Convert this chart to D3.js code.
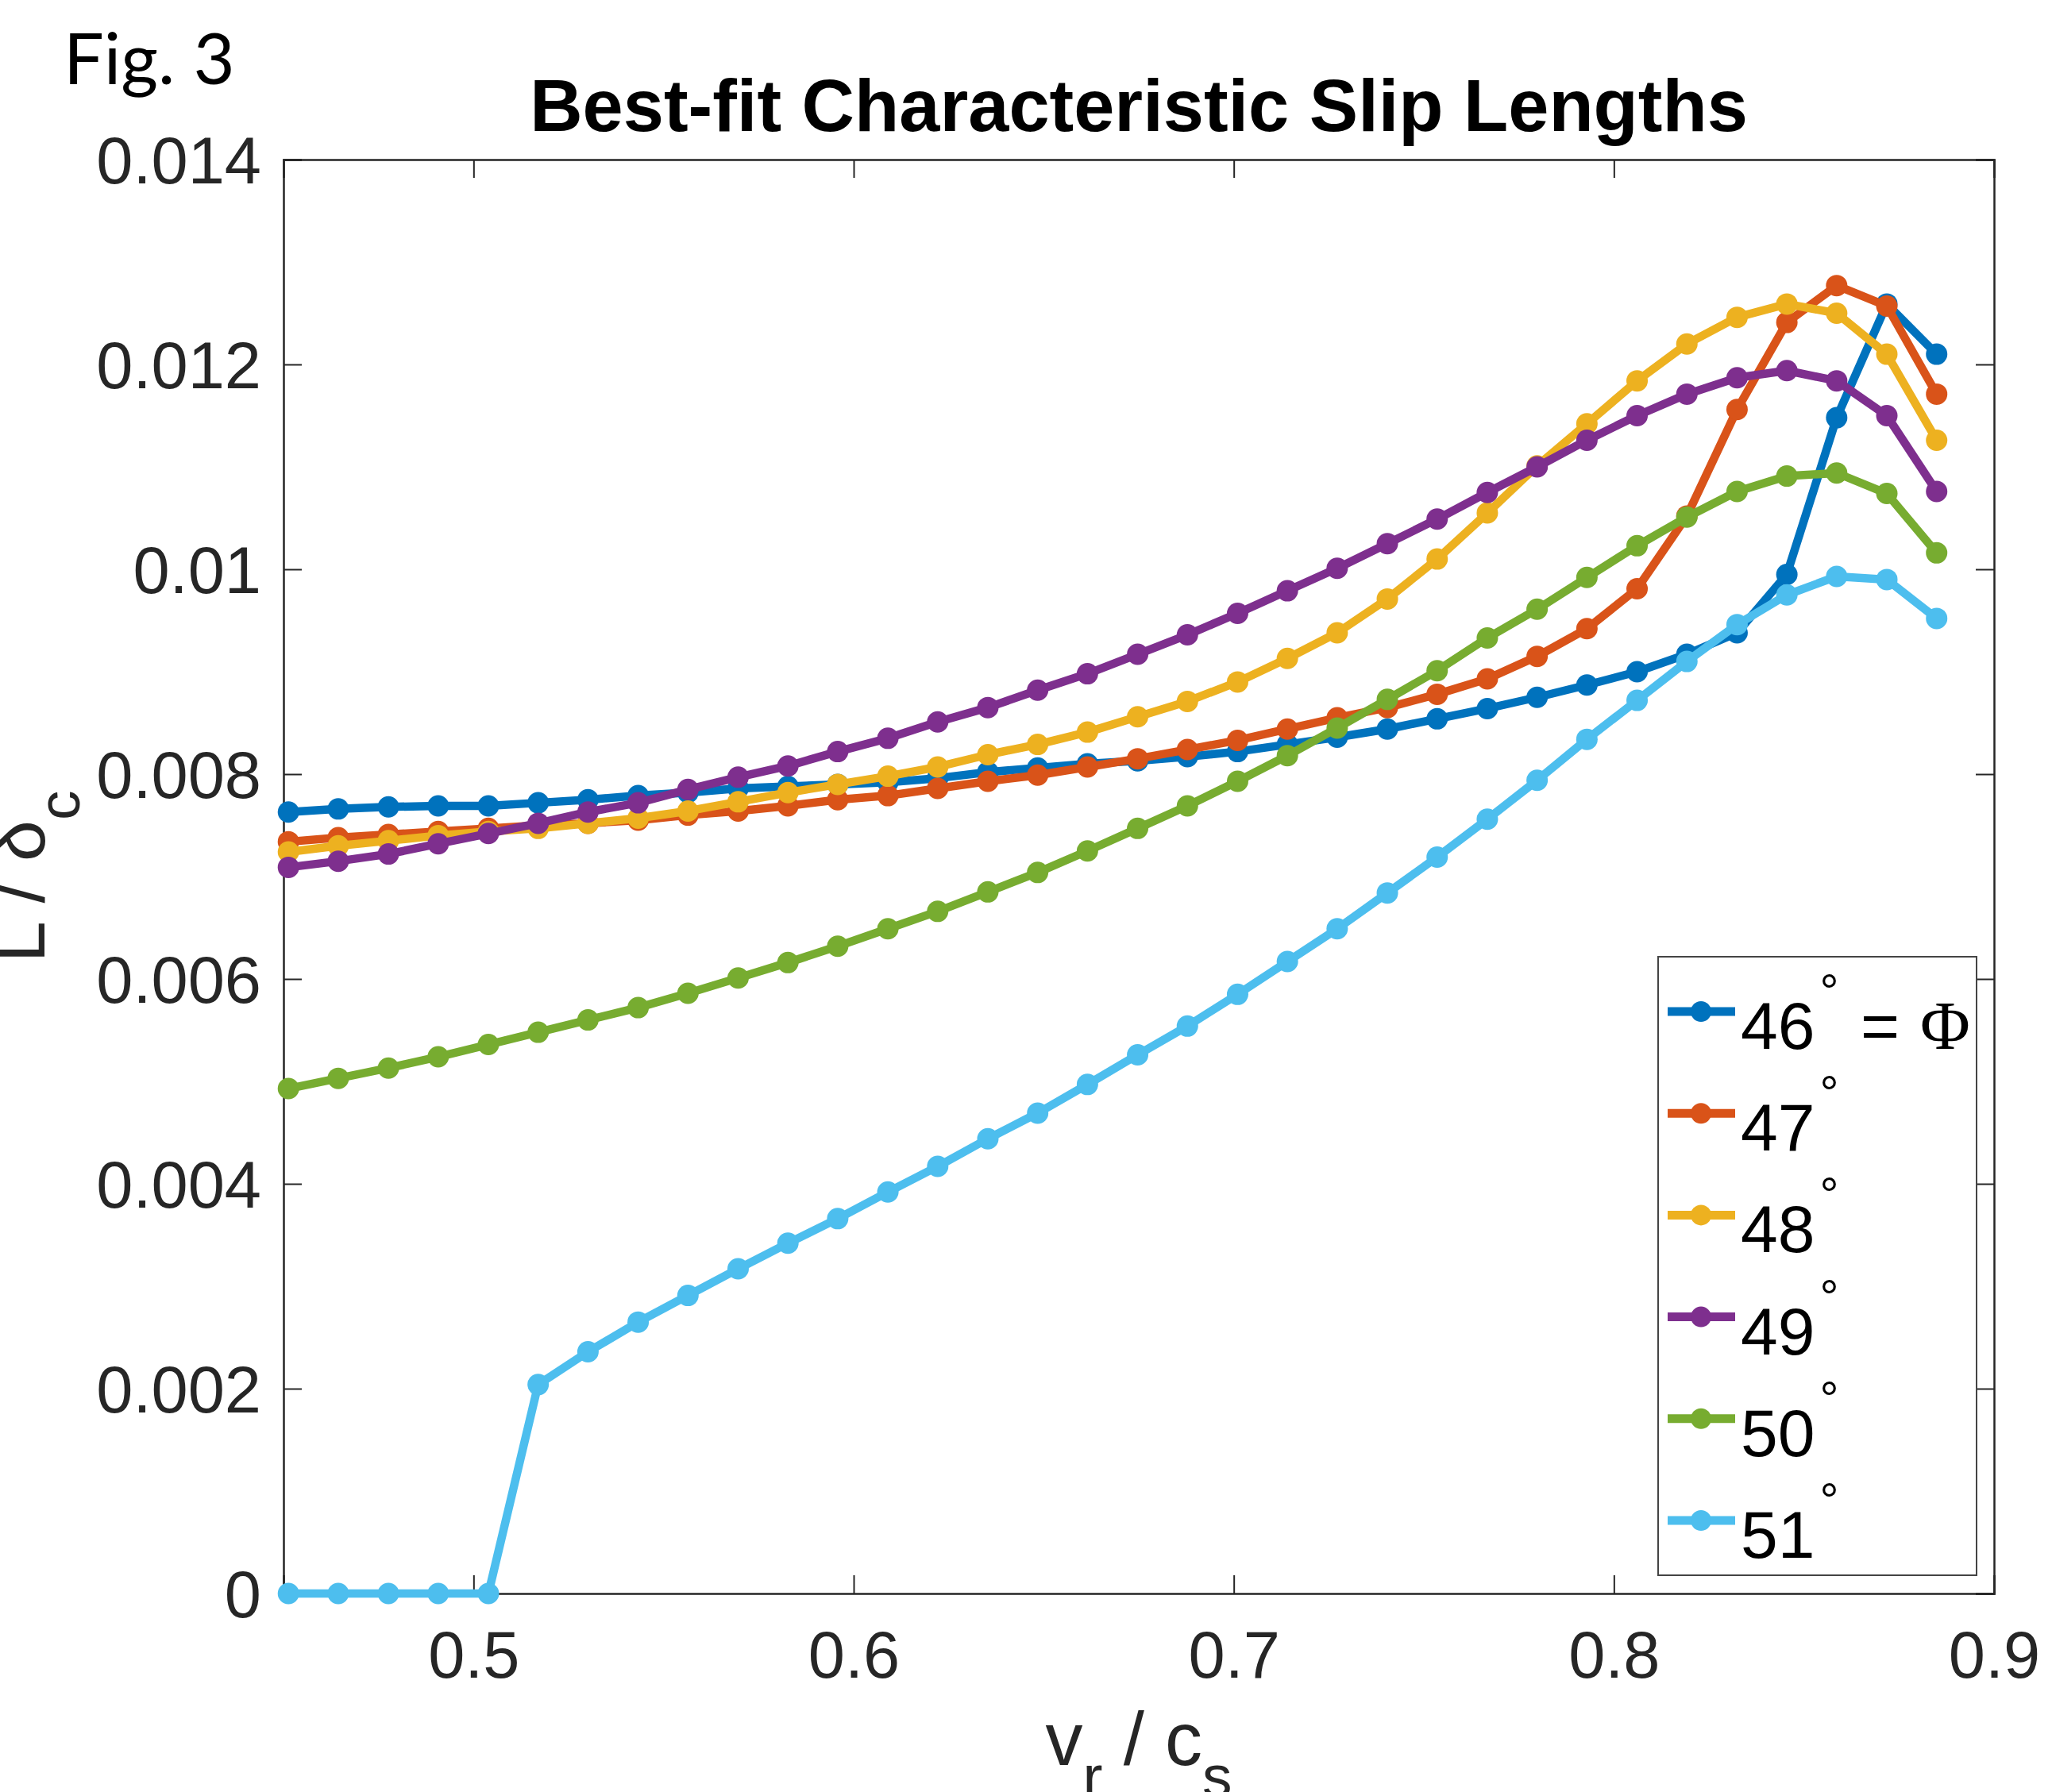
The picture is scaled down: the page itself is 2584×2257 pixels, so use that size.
<!DOCTYPE html>
<html>
<head>
<meta charset="utf-8">
<script src="https://cdn.jsdelivr.net/npm/d3@7"></script>
<style>
  body { margin: 0; background: #fff; }
</style>
</head>
<body>
<div id="chart"></div>
<script>
// Data
var vr = [0.4513, 0.4644, 0.4776, 0.4907, 0.5039, 0.5170, 0.5301, 0.5433, 0.5564, 0.5696,
          0.5827, 0.5958, 0.6090, 0.6221, 0.6353, 0.6484, 0.6615, 0.6747, 0.6878, 0.7010,
          0.7141, 0.7272, 0.7404, 0.7535, 0.7667, 0.7798, 0.7929, 0.8061, 0.8192, 0.8324,
          0.8455, 0.8586, 0.8718, 0.8849];

var angles = ["46", "47", "48", "49", "50", "51"];

var L46 = [0.00763, 0.00766, 0.00768, 0.00769, 0.00769, 0.00772, 0.00775, 0.00779, 0.00782, 0.00786,
           0.00788, 0.00790, 0.00792, 0.00796, 0.00802, 0.00806, 0.00810, 0.00813, 0.00817, 0.00822,
           0.00829, 0.00836, 0.00844, 0.00854, 0.00864, 0.00875, 0.00887, 0.00900, 0.00917, 0.00938,
           0.00995, 0.01148, 0.01259, 0.01210];
var L47 = [0.00734, 0.00738, 0.00741, 0.00744, 0.00747, 0.00750, 0.00752, 0.00755, 0.00760, 0.00764,
           0.00769, 0.00775, 0.00779, 0.00786, 0.00793, 0.00799, 0.00807, 0.00815, 0.00824, 0.00833,
           0.00844, 0.00855, 0.00865, 0.00878, 0.00893, 0.00915, 0.00942, 0.00981, 0.01052, 0.01156,
           0.01241, 0.01277, 0.01257, 0.01171];
var L48 = [0.00724, 0.00730, 0.00735, 0.00740, 0.00744, 0.00747, 0.00752, 0.00757, 0.00764, 0.00773,
           0.00782, 0.00790, 0.00798, 0.00807, 0.00819, 0.00829, 0.00841, 0.00856, 0.00871, 0.00890,
           0.00913, 0.00938, 0.00971, 0.01010, 0.01055, 0.01101, 0.01142, 0.01184, 0.01220, 0.01246,
           0.01259, 0.01250, 0.01210, 0.01126];
var L49 = [0.00709, 0.00715, 0.00722, 0.00732, 0.00742, 0.00752, 0.00763, 0.00772, 0.00785, 0.00797,
           0.00808, 0.00822, 0.00835, 0.00851, 0.00865, 0.00882, 0.00898, 0.00917, 0.00936, 0.00957,
           0.00979, 0.01001, 0.01025, 0.01049, 0.01075, 0.01100, 0.01126, 0.01150, 0.01171, 0.01187,
           0.01194, 0.01184, 0.01150, 0.01076];
var L50 = [0.00493, 0.00503, 0.00513, 0.00524, 0.00536, 0.00548, 0.00560, 0.00572, 0.00586, 0.00601,
           0.00616, 0.00632, 0.00649, 0.00666, 0.00685, 0.00704, 0.00725, 0.00747, 0.00769, 0.00793,
           0.00818, 0.00845, 0.00873, 0.00901, 0.00933, 0.00961, 0.00992, 0.01023, 0.01051, 0.01076,
           0.01091, 0.01094, 0.01074, 0.01016];
var L51 = [0, 0, 0, 0, 0, 0.00204, 0.00236, 0.00265, 0.00291, 0.00317,
           0.00342, 0.00366, 0.00392, 0.00417, 0.00444, 0.00469, 0.00497, 0.00526, 0.00554, 0.00585,
           0.00617, 0.00649, 0.00684, 0.00719, 0.00756, 0.00794, 0.00834, 0.00872, 0.00910, 0.00946,
           0.00975, 0.00993, 0.00990, 0.00952];

var xTicks = [0.5, 0.6, 0.7, 0.8, 0.9];
var yTicks = [0, 0.002, 0.004, 0.006, 0.008, 0.01, 0.012, 0.014];

// MATLAB default line colours
var colors = ["#0072BD", "#D95319", "#EDB120", "#7E2F8E", "#77AC30", "#4DBEEE"];

var seriesList = [L46, L47, L48, L49, L50, L51];

// Chart Params
var svgWidth = 2584;
var svgHeight = 2257;
var margin = { top: 201, right: 73, bottom: 250, left: 357 };
var width = svgWidth - margin.left - margin.right;
var height = svgHeight - margin.top - margin.bottom;

var svg = d3.select("#chart")
  .append("svg")
  .attr("width", svgWidth)
  .attr("height", svgHeight)
  .style("background", "#fff");

var chartGroup = svg.append("g")
  .attr("transform", `translate(${margin.left}, ${margin.top})`);

var xScale = d3.scaleLinear().domain([0.45, 0.9]).range([0, width]);
var yScale = d3.scaleLinear().domain([0, 0.014]).range([height, 0]);

var tickFont = "'Liberation Sans', Arial, Helvetica, sans-serif";
var tickLen = 23;

// Axes (MATLAB style: ticks inside, box on)
var bottomAxis = d3.axisBottom(xScale).tickValues(xTicks).tickSize(-tickLen).tickPadding(0)
  .tickFormat(d3.format(".1f"));
var leftAxis = d3.axisLeft(yScale).tickValues(yTicks).tickSize(-tickLen).tickPadding(28)
  .tickFormat(d => d === 0 ? "0" : String(+d.toFixed(3)));
var topAxis = d3.axisTop(xScale).tickValues(xTicks).tickSize(-tickLen).tickFormat("");
var rightAxis = d3.axisRight(yScale).tickValues(yTicks).tickSize(-tickLen).tickFormat("");

var gx = chartGroup.append("g")
  .attr("transform", `translate(0, ${height})`)
  .call(bottomAxis);
var gy = chartGroup.append("g").call(leftAxis);
var gt = chartGroup.append("g").call(topAxis);
var gr = chartGroup.append("g").attr("transform", `translate(${width}, 0)`).call(rightAxis);

[gx, gy, gt, gr].forEach(function(g) {
  g.select(".domain").attr("stroke", "#262626").attr("stroke-width", 2.5);
  g.selectAll(".tick line").attr("stroke", "#262626").attr("stroke-width", 2);
  g.selectAll(".tick text")
    .attr("fill", "#262626")
    .style("font-family", tickFont)
    .style("font-size", "83px");
});
gx.selectAll(".tick text").attr("y", 106).attr("dy", 0);
gy.selectAll(".tick text").attr("dy", "0.36em");

// Lines and markers, drawn in series order so the last one sits on top
var line = d3.line()
  .x((d, i) => xScale(vr[i]))
  .y(d => yScale(d));

seriesList.forEach(function(vals, k) {
  chartGroup.append("path")
    .datum(vals)
    .attr("fill", "none")
    .attr("stroke", colors[k])
    .attr("stroke-width", 10.5)
    .attr("stroke-linejoin", "round")
    .attr("d", line);

  chartGroup.selectAll(".pt" + k)
    .data(vals)
    .enter()
    .append("circle")
    .attr("class", "pt" + k)
    .attr("cx", (d, i) => xScale(vr[i]))
    .attr("cy", d => yScale(d))
    .attr("r", 13.5)
    .attr("fill", colors[k]);
});

// Legend
var legend = svg.append("g");
legend.append("rect")
  .attr("x", 2088).attr("y", 1205)
  .attr("width", 401).attr("height", 779)
  .attr("fill", "#fff")
  .attr("stroke", "#444")
  .attr("stroke-width", 2);

angles.forEach(function(a, k) {
  var ly = 1274 + k * 128.2;
  legend.append("line")
    .attr("x1", 2100).attr("x2", 2185)
    .attr("y1", ly).attr("y2", ly)
    .attr("stroke", colors[k])
    .attr("stroke-width", 11);
  legend.append("circle")
    .attr("cx", 2142).attr("cy", ly).attr("r", 13)
    .attr("fill", colors[k]);

  var t = legend.append("text")
    .attr("x", 2192).attr("y", ly + 47)
    .style("font-family", tickFont)
    .style("font-size", "84px")
    .attr("fill", "#000");
  t.append("tspan").text(a);
  t.append("tspan")
    .attr("dx", 6)
    .attr("dy", -52)
    .style("font-size", "60px")
    .text("°");
  if (k === 0) {
    t.append("tspan").attr("x", 2343).attr("dy", 52).text("=");
    t.append("tspan").attr("x", 2418)
      .style("font-family", "'Liberation Serif', 'DejaVu Serif', serif")
      .style("font-size", "86px")
      .text("Φ");
  }
});

// Axis labels
var labelFont = tickFont;
var xLabel = svg.append("text")
  .attr("x", margin.left + width / 2)
  .attr("y", 2223)
  .attr("text-anchor", "middle")
  .attr("fill", "#262626")
  .style("font-family", labelFont)
  .style("font-size", "94px");
xLabel.append("tspan").text("v");
xLabel.append("tspan").attr("dy", 40).style("font-size", "75px").text("r");
xLabel.append("tspan").attr("dy", -40).text(" / c");
xLabel.append("tspan").attr("dy", 40).style("font-size", "75px").text("s");

var yLabel = svg.append("text")
  .attr("transform", `translate(56, ${margin.top + height / 2}) rotate(-90)`)
  .attr("text-anchor", "middle")
  .attr("fill", "#262626")
  .style("font-family", labelFont)
  .style("font-size", "94px");
yLabel.append("tspan").text("L / δ");
yLabel.append("tspan").attr("dy", 44).style("font-size", "75px").text("c");

// Title
svg.append("text")
  .attr("x", margin.left + width / 2)
  .attr("y", 165)
  .attr("text-anchor", "middle")
  .attr("fill", "#000")
  .style("font-family", tickFont)
  .style("font-weight", "bold")
  .style("font-size", "92px")
  .text("Best-fit Characteristic Slip Lengths");

// Figure tag
svg.append("text")
  .attr("x", 80)
  .attr("y", 106)
  .attr("fill", "#000")
  .style("font-family", "Lato, 'Open Sans', sans-serif")
  .style("font-size", "90px")
  .text("Fig. 3");
</script>
</body>
</html>
